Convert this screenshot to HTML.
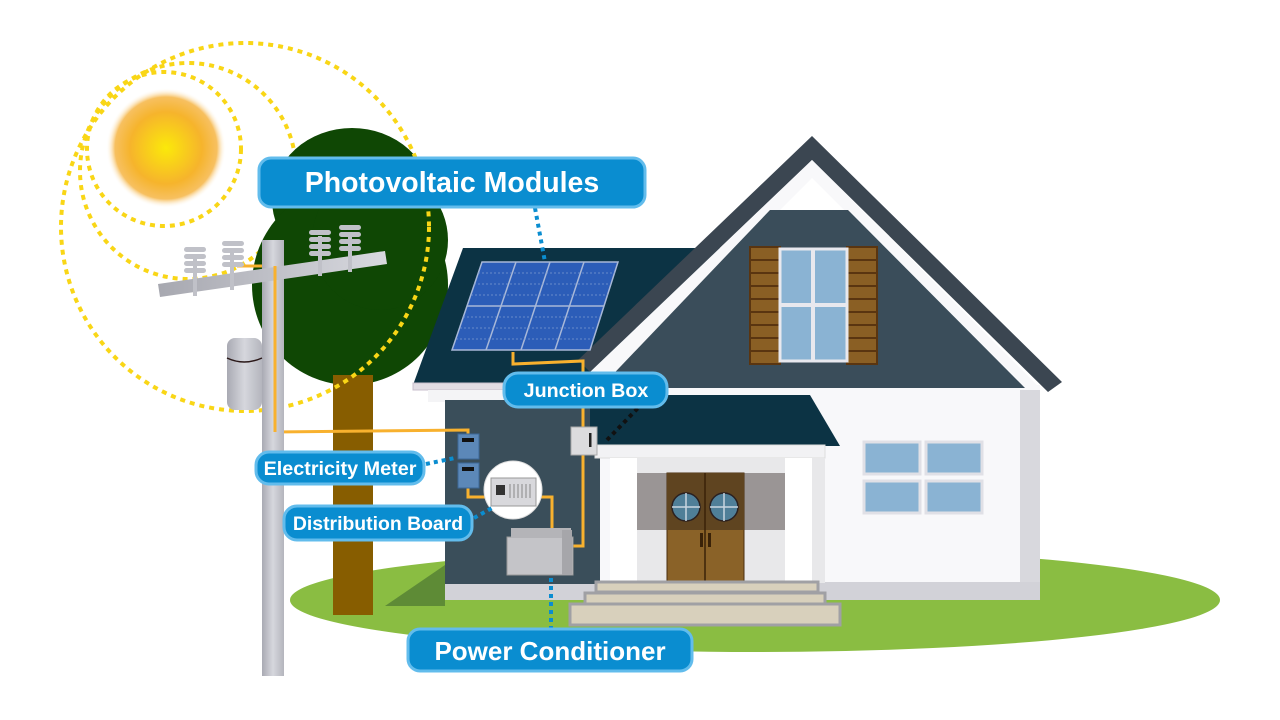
<!DOCTYPE html>
<html><head><meta charset="utf-8"><style>
html,body{margin:0;padding:0;background:#fff;}
svg{display:block;}
text{font-family:"Liberation Sans",sans-serif;font-weight:bold;fill:#fff;}
</style></head><body>
<svg width="1280" height="720" viewBox="0 0 1280 720" xmlns="http://www.w3.org/2000/svg">
<defs>
<radialGradient id="sun" cx="50%" cy="50%" r="50%">
<stop offset="0" stop-color="#fbe90a"/><stop offset="0.6" stop-color="#f6b42c"/><stop offset="0.85" stop-color="#f7c060"/><stop offset="1" stop-color="#fff" stop-opacity="0"/>
</radialGradient>
<linearGradient id="pole" x1="0" x2="1"><stop offset="0" stop-color="#a9aab3"/><stop offset="0.5" stop-color="#d6d7dd"/><stop offset="1" stop-color="#b4b5bd"/></linearGradient>
<linearGradient id="arm" x1="0" x2="1"><stop offset="0" stop-color="#a7a8b0"/><stop offset="1" stop-color="#d8d9df"/></linearGradient>
</defs>

<ellipse cx="755" cy="600" rx="465" ry="52" fill="#8abd42"/>
<polygon points="385,606 445,565 445,606" fill="#5e8b36"/>

<circle cx="166" cy="148" r="60" fill="url(#sun)"/>
<g fill="none" stroke="#f9d616" stroke-width="4" stroke-dasharray="5,5">
<circle cx="164" cy="149" r="77"/>
<circle cx="188" cy="171" r="108"/>
</g>

<g fill="#0f4704">
<ellipse cx="352" cy="200" rx="80" ry="72"/>
<ellipse cx="350" cy="285" rx="98" ry="100"/>
<ellipse cx="380" cy="240" rx="68" ry="70"/>
</g>
<rect x="333" y="375" width="40" height="240" fill="#875d00"/>

<circle cx="245" cy="227" r="184" fill="none" stroke="#f9d616" stroke-width="4" stroke-dasharray="5,5"/>

<polygon points="463,248 760,248 760,385 413,385" fill="#0c3344"/>
<rect x="413" y="383" width="348" height="7" fill="#e2dde4" stroke="#c8bfcc"/>
<rect x="428" y="390" width="200" height="12" fill="#f4f4f6"/>
<rect x="445" y="400" width="160" height="186" fill="#3a4e5a"/>
<rect x="445" y="584" width="160" height="16" fill="#d2d2d8"/>

<rect x="600" y="385" width="440" height="215" fill="#f8f8fa"/>
<rect x="1020" y="390" width="20" height="210" fill="#d8d8dd"/>
<rect x="812" y="582" width="228" height="18" fill="#d2d2d8"/>

<polygon points="812,136 1062,382 1048,392 812,160 590,372 578,360" fill="#3b4651"/>
<polygon points="812,160 1040,388 1025,390 812,178 600,390 590,372" fill="#f8f8fa"/>
<polygon points="770,210 848,210 1025,388 600,388" fill="#3a4d5a"/>

<rect x="750" y="247" width="30" height="117" fill="#8a5f24" stroke="#5a3510" stroke-width="2"/>
<rect x="847" y="247" width="30" height="117" fill="#8a5f24" stroke="#5a3510" stroke-width="2"/>
<g stroke="#5a3510" stroke-width="2">
<line x1="751" y1="260" x2="779" y2="260"/><line x1="751" y1="273" x2="779" y2="273"/><line x1="751" y1="286" x2="779" y2="286"/><line x1="751" y1="299" x2="779" y2="299"/><line x1="751" y1="312" x2="779" y2="312"/><line x1="751" y1="325" x2="779" y2="325"/><line x1="751" y1="338" x2="779" y2="338"/><line x1="751" y1="351" x2="779" y2="351"/>
<line x1="848" y1="260" x2="876" y2="260"/><line x1="848" y1="273" x2="876" y2="273"/><line x1="848" y1="286" x2="876" y2="286"/><line x1="848" y1="299" x2="876" y2="299"/><line x1="848" y1="312" x2="876" y2="312"/><line x1="848" y1="325" x2="876" y2="325"/><line x1="848" y1="338" x2="876" y2="338"/><line x1="848" y1="351" x2="876" y2="351"/>
</g>
<rect x="780" y="249" width="67" height="112" fill="#8ab3d3" stroke="#e8e8ee" stroke-width="3"/>
<line x1="813" y1="249" x2="813" y2="361" stroke="#e8e8ee" stroke-width="4"/>
<line x1="780" y1="305" x2="847" y2="305" stroke="#e8e8ee" stroke-width="4"/>

<g fill="#8ab3d3" stroke="#e0e0e6" stroke-width="3">
<rect x="864" y="442" width="56" height="32"/><rect x="926" y="442" width="56" height="32"/>
<rect x="864" y="481" width="56" height="32"/><rect x="926" y="481" width="56" height="32"/>
</g>

<polygon points="590,395 810,395 840,446 590,446" fill="#0c3344"/>
<rect x="595" y="445" width="230" height="13" fill="#f2f2f4" stroke="#ddd"/>
<rect x="610" y="458" width="215" height="125" fill="#e8e8ea"/>
<rect x="637" y="473" width="148" height="57" fill="#9a9595"/>
<rect x="610" y="458" width="27" height="125" fill="#fff"/>
<rect x="785" y="458" width="27" height="125" fill="#fff"/>
<rect x="667" y="473" width="77" height="110" fill="#8a6228" stroke="#4a2e10"/>
<rect x="667" y="473" width="77" height="57" fill="#5f4420"/>
<line x1="705" y1="473" x2="705" y2="583" stroke="#3a2208" stroke-width="1.5"/>
<g fill="#4f7f98" stroke="#2a2020" stroke-width="1.5">
<circle cx="686" cy="507" r="14"/><circle cx="724" cy="507" r="14"/>
</g>
<g stroke="#c8d6e0" stroke-width="1.5">
<line x1="686" y1="493" x2="686" y2="521"/><line x1="672" y1="507" x2="700" y2="507"/>
<line x1="724" y1="493" x2="724" y2="521"/><line x1="710" y1="507" x2="738" y2="507"/>
</g>
<rect x="700" y="533" width="3" height="14" fill="#3a2208"/><rect x="708" y="533" width="3" height="14" fill="#3a2208"/>
<g fill="#d8d0bc" stroke="#a0a0a4" stroke-width="3">
<rect x="596" y="582" width="222" height="10"/>
<rect x="585" y="593" width="240" height="11"/>
<rect x="570" y="604" width="270" height="21"/>
</g>

<polygon points="482,262 618,262 590,350 452,350" fill="#2c5db8" stroke="#a8b8d8" stroke-width="1.5"/>
<g stroke="#a8b8d8" stroke-width="1.5">
<line x1="516" y1="262" x2="486" y2="350"/><line x1="550" y1="262" x2="521" y2="350"/><line x1="584" y1="262" x2="555" y2="350"/>
<line x1="467" y1="306" x2="604" y2="306"/>
</g>
<g stroke="#7b9ad0" stroke-width="0.8" stroke-dasharray="2,2">
<line x1="478" y1="273" x2="615" y2="273"/><line x1="474" y1="284" x2="611" y2="284"/><line x1="471" y1="295" x2="608" y2="295"/>
<line x1="463" y1="317" x2="601" y2="317"/><line x1="460" y1="328" x2="597" y2="328"/><line x1="456" y1="339" x2="594" y2="339"/>
</g>

<g fill="none" stroke="#f8b12e" stroke-width="3">
<polyline points="513,352 513,364 583,361 583,428"/>
<polyline points="583,455 583,546 571,546"/>
<polyline points="237,266 275,266 275,432 468,430 468,434"/>
<polyline points="468,486 468,497 486,497"/>
<polyline points="540,497 552,497 552,528"/>
</g>

<rect x="458" y="434" width="21" height="25" fill="#5c88b8" stroke="#3c6898"/>
<rect x="462" y="438" width="12" height="4" fill="#111"/>
<rect x="458" y="463" width="21" height="25" fill="#5c88b8" stroke="#3c6898"/>
<rect x="462" y="467" width="12" height="4" fill="#111"/>
<circle cx="513" cy="490" r="29" fill="#fff" stroke="#ddd"/>
<rect x="491" y="478" width="45" height="28" fill="#d8d8dc" stroke="#999"/>
<rect x="496" y="485" width="9" height="10" fill="#333"/>
<g stroke="#888" stroke-width="1"><line x1="510" y1="484" x2="510" y2="498"/><line x1="514" y1="484" x2="514" y2="498"/><line x1="518" y1="484" x2="518" y2="498"/><line x1="522" y1="484" x2="522" y2="498"/><line x1="526" y1="484" x2="526" y2="498"/><line x1="530" y1="484" x2="530" y2="498"/></g>
<rect x="571" y="427" width="26" height="28" fill="#dcdcde" stroke="#aaa"/>
<rect x="589" y="433" width="2.5" height="14" fill="#222"/>
<rect x="507" y="537" width="66" height="38" fill="#c4c4c8" stroke="#999"/>
<rect x="511" y="528" width="60" height="10" fill="#b4b4b8"/>
<rect x="562" y="530" width="10" height="45" fill="#a6a6aa"/>

<rect x="262" y="240" width="22" height="436" fill="url(#pole)"/>
<polygon points="158,284 385,251 387,264 160,297" fill="url(#arm)"/>
<g fill="#c0c1c8">
<rect x="193" y="256" width="4" height="40"/><rect x="230" y="252" width="4" height="38"/>
<rect x="318" y="236" width="4" height="40"/><rect x="348" y="232" width="4" height="40"/>
<rect x="184" y="247" width="22" height="5" rx="2.5"/><rect x="184" y="254" width="22" height="5" rx="2.5"/><rect x="184" y="261" width="22" height="5" rx="2.5"/><rect x="184" y="268" width="22" height="5" rx="2.5"/>
<rect x="222" y="241" width="22" height="5" rx="2.5"/><rect x="222" y="248" width="22" height="5" rx="2.5"/><rect x="222" y="255" width="22" height="5" rx="2.5"/><rect x="222" y="262" width="22" height="5" rx="2.5"/>
<rect x="309" y="230" width="22" height="5" rx="2.5"/><rect x="309" y="237" width="22" height="5" rx="2.5"/><rect x="309" y="244" width="22" height="5" rx="2.5"/><rect x="309" y="251" width="22" height="5" rx="2.5"/>
<rect x="339" y="225" width="22" height="5" rx="2.5"/><rect x="339" y="232" width="22" height="5" rx="2.5"/><rect x="339" y="239" width="22" height="5" rx="2.5"/><rect x="339" y="246" width="22" height="5" rx="2.5"/>
</g>
<rect x="227" y="338" width="35" height="72" rx="8" fill="url(#pole)"/>
<path d="M227,358 Q244,366 262,358" fill="none" stroke="#2a1818" stroke-width="1.5"/>
<polyline points="275,266 275,432" fill="none" stroke="#f8b12e" stroke-width="3"/>

<g fill="none" stroke="#0a8dd0" stroke-width="4" stroke-dasharray="4,4">
<line x1="535" y1="208" x2="545" y2="262"/>
<line x1="426" y1="464" x2="455" y2="458"/>
<line x1="474" y1="518" x2="492" y2="508"/>
<line x1="551" y1="578" x2="551" y2="628"/>
</g>
<line x1="607" y1="440" x2="638" y2="408" stroke="#111" stroke-width="4" stroke-dasharray="4,4"/>

<g fill="#0a8dd0" stroke="#62bcec" stroke-width="3">
<rect x="259" y="158" width="386" height="49" rx="12"/>
<rect x="504" y="373" width="163" height="34" rx="14"/>
<rect x="256" y="452" width="168" height="32" rx="13"/>
<rect x="284" y="506" width="188" height="34" rx="13"/>
<rect x="408" y="629" width="284" height="42" rx="12"/>
</g>
<text x="452" y="192" font-size="28.5" text-anchor="middle">Photovoltaic Modules</text>
<text x="586" y="397" font-size="19.7" text-anchor="middle">Junction Box</text>
<text x="340" y="475" font-size="19.8" text-anchor="middle">Electricity Meter</text>
<text x="378" y="530" font-size="19.4" text-anchor="middle">Distribution Board</text>
<text x="550" y="660" font-size="26" text-anchor="middle">Power Conditioner</text>
</svg>
</body></html>
